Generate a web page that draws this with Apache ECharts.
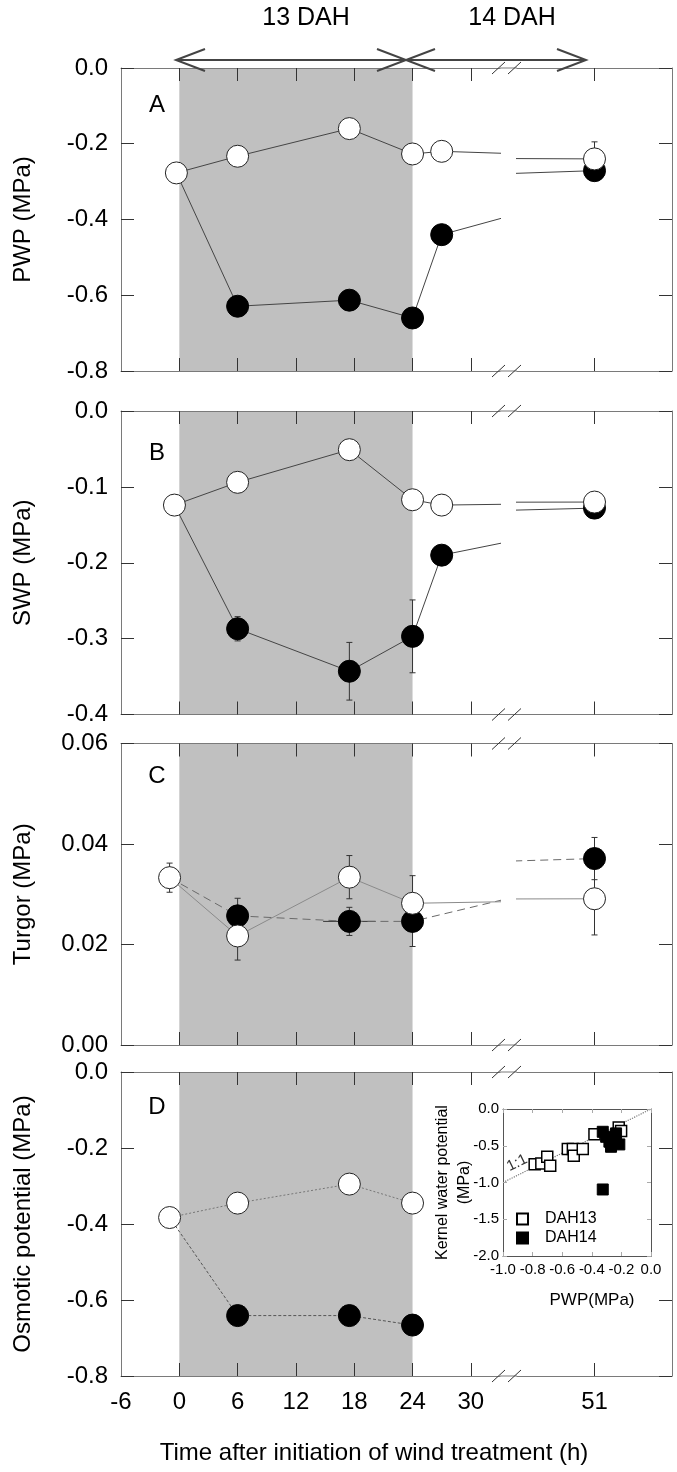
<!DOCTYPE html>
<html><head><meta charset="utf-8">
<script src="https://cdn.jsdelivr.net/npm/echarts@6/dist/echarts.min.js"></script>
<style>html,body{margin:0;padding:0;background:#fff;overflow:hidden}#c{width:677px;height:1472px}</style>
</head><body><div id="c"></div>
<script>
// ---------------- DATA ----------------
const windPeriod = [0, 24];
const xTickValues = [0, 6, 12, 18, 24, 30];
const xLabelValues = [-6, 0, 6, 12, 18, 24, 30];
const xLabelValuesRight = [51];

// Panel A: PWP (MPa)
const timeA = [-0.3, 6, 17.5, 24, 27, 51];
const openA = [-0.277, -0.233, -0.160, -0.227, -0.220, -0.240];
const openAErr = [0, 0, 0, 0, 0, 0.045];
const filledA = [-0.277, -0.629, -0.613, -0.660, -0.440, -0.271];
const filledAErr = [0, 0, 0, 0, 0, 0];

// Panel B: SWP (MPa)
const timeB = [-0.5, 6, 17.5, 24, 27, 51];
const openB = [-0.124, -0.094, -0.051, -0.117, -0.124, -0.120];
const openBErr = [0, 0, 0, 0, 0, 0];
const filledB = [-0.124, -0.287, -0.343, -0.297, -0.190, -0.128];
const filledBErr = [0, 0.016, 0.038, 0.048, 0, 0];

// Panel C: Turgor (MPa)
const timeC = [-1, 6, 17.5, 24, 51];
const openC = [0.0333, 0.0217, 0.0334, 0.0282, 0.0291];
const openCErr = [0.0029, 0.0048, 0.0043, 0.0055, 0.0072];
const filledC = [0.0333, 0.0257, 0.0246, 0.0246, 0.0371];
const filledCErr = [0, 0.0035, 0.0028, 0.005, 0.0042];
const filledCTimeErr = [0, 0, 2.7, 0, 0];

// Panel D: Osmotic potential (MPa)
const timeD = [-1, 6, 17.5, 24];
const openD = [-0.383, -0.345, -0.295, -0.345];
const filledD = [-0.383, -0.641, -0.641, -0.666];

// Inset: kernel water potential vs PWP
const dah13X = [-0.786, -0.741, -0.701, -0.681, -0.562, -0.528, -0.522, -0.461, -0.382, -0.218, -0.202];
const dah13Y = [-0.75, -0.74, -0.65, -0.773, -0.545, -0.545, -0.636, -0.545, -0.345, -0.25, -0.30];
const dah14X = [-0.326, -0.303, -0.281, -0.270, -0.247, -0.236, -0.214, -0.326];
const dah14Y = [-0.31, -0.378, -0.445, -0.514, -0.414, -0.332, -0.482, -1.095];
const oneToOne = [[-1, -1], [0, 0]];

// ---------------- LAYOUT ----------------
const FONT = '"Liberation Sans", Arial, Helvetica, sans-serif';
const L_LEFT = 121, L_W = 379, R_LEFT = 517, R_W = 155;
const FRAME = '#7a7a7a', TICK = '#333';

const panels = [
  {top: 68, h: 303, ymin: -0.8, ymax: 0, yint: 0.2, dec: 1, name: 'PWP (MPa)', letter: 'A', ly: 105,
   times: timeA, open: openA, openErr: openAErr, filled: filledA, filledErr: filledAErr, fxErr: null,
   openLine: {color: '#444', width: 1}, filledLine: {color: '#444', width: 1}},
  {top: 411, h: 303.5, ymin: -0.4, ymax: 0, yint: 0.1, dec: 1, name: 'SWP (MPa)', letter: 'B', ly: 453,
   times: timeB, open: openB, openErr: openBErr, filled: filledB, filledErr: filledBErr, fxErr: null,
   openLine: {color: '#444', width: 1}, filledLine: {color: '#444', width: 1}},
  {top: 743.5, h: 301.5, ymin: 0, ymax: 0.06, yint: 0.02, dec: 2, name: 'Turgor (MPa)', letter: 'C', ly: 776,
   times: timeC, open: openC, openErr: openCErr, filled: filledC, filledErr: filledCErr, fxErr: filledCTimeErr,
   openLine: {color: '#8a8a8a', width: 1}, filledLine: {color: '#6a6a6a', width: 1, type: [8, 5]}},
  {top: 1072, h: 304, ymin: -0.8, ymax: 0, yint: 0.2, dec: 1, name: 'Osmotic potential (MPa)', letter: 'D', ly: 1107,
   times: timeD, open: openD, openErr: null, filled: filledD, filledErr: null, fxErr: null,
   openLine: {color: '#777', width: 1, type: [2, 2]}, filledLine: {color: '#555', width: 1, type: [3, 2]}}
];

const grid = [], xAxis = [], yAxis = [], series = [], graphic = [];

function xAx(gi, pos, min, max, ticks, labels, showLabels) {
  return {gridIndex: gi, type: 'value', position: pos, min: min, max: max, z: 10,
    axisLine: {show: true, onZero: false, lineStyle: {color: FRAME, width: 1}},
    axisTick: {show: true, inside: true, length: 13, customValues: ticks, lineStyle: {color: TICK, width: 1}},
    axisLabel: {show: showLabels, customValues: labels, fontSize: 24, color: '#000', margin: 14, fontFamily: FONT},
    splitLine: {show: false}};
}

function lineSeries(xi, yi, times, vals, open, ls) {
  return {type: 'line', xAxisIndex: xi, yAxisIndex: yi, clip: true, z: open ? 4 : 3,
    data: times.map((t, i) => (!open && i === 0) ? {value: [t, vals[i]], symbol: 'none'} : [t, vals[i]]),
    symbol: 'circle', symbolSize: 22, showSymbol: true, showAllSymbol: true,
    itemStyle: open ? {color: '#fff', borderColor: '#222', borderWidth: 1} : {color: '#000', borderColor: '#000', borderWidth: 1},
    lineStyle: Object.assign({type: 'solid'}, ls), silent: true, animation: false, emphasis: {disabled: true}};
}

function errSeries(xi, yi, times, vals, errs, xerrs) {
  const data = [];
  times.forEach((t, i) => {
    const e = errs ? errs[i] : 0, xe = xerrs ? xerrs[i] : 0;
    if (e > 0 || xe > 0) data.push([t, vals[i], e, xe]);
  });
  return {type: 'custom', xAxisIndex: xi, yAxisIndex: yi, clip: true, z: 2, silent: true, animation: false,
    data: data,
    renderItem: function (params, api) {
      const x = api.value(0), y = api.value(1), e = api.value(2), xe = api.value(3);
      const ch = [], st = {stroke: '#333', lineWidth: 1};
      if (e > 0) {
        const a = api.coord([x, y + e]), b = api.coord([x, y - e]);
        ch.push({type: 'line', shape: {x1: a[0], y1: a[1], x2: b[0], y2: b[1]}, style: st});
        ch.push({type: 'line', shape: {x1: a[0] - 3, y1: a[1], x2: a[0] + 3, y2: a[1]}, style: st});
        ch.push({type: 'line', shape: {x1: b[0] - 3, y1: b[1], x2: b[0] + 3, y2: b[1]}, style: st});
      }
      if (xe > 0) {
        const a = api.coord([x - xe, y]), b = api.coord([x + xe, y]);
        ch.push({type: 'line', shape: {x1: a[0], y1: a[1], x2: b[0], y2: b[1]}, style: st});
      }
      return {type: 'group', children: ch};
    }};
}

function shadeSeries(xi, yi, p) {
  return {type: 'custom', xAxisIndex: xi, yAxisIndex: yi, clip: true, z: 1, silent: true, animation: false,
    data: [windPeriod],
    renderItem: function (params, api) {
      const a = api.coord([api.value(0), p.ymax]), b = api.coord([api.value(1), p.ymin]);
      return {type: 'rect', shape: {x: a[0], y: a[1], width: b[0] - a[0], height: b[1] - a[1]}, style: {fill: '#c0c0c0'}};
    }};
}

panels.forEach((p, k) => {
  const isLast = k === panels.length - 1;
  const gL = grid.length;
  grid.push({left: L_LEFT, top: p.top, width: L_W, height: p.h});
  grid.push({left: R_LEFT, top: p.top, width: R_W, height: p.h});
  const gR = gL + 1;
  const xLb = xAxis.length;
  xAxis.push(xAx(gL, 'bottom', -6, 33, xTickValues, xLabelValues, isLast));
  xAxis.push(xAx(gL, 'top', -6, 33, xTickValues, xLabelValues, false));
  xAxis.push(xAx(gR, 'bottom', 50, 52, xLabelValuesRight, xLabelValuesRight, isLast));
  xAxis.push(xAx(gR, 'top', 50, 52, xLabelValuesRight, xLabelValuesRight, false));
  const xRb = xLb + 2;
  const yL = yAxis.length;
  yAxis.push({gridIndex: gL, type: 'value', position: 'left', min: p.ymin, max: p.ymax, interval: p.yint, z: 10,
    axisLine: {show: true, onZero: false, lineStyle: {color: FRAME}},
    axisTick: {show: true, inside: true, length: 13, lineStyle: {color: TICK}},
    axisLabel: {fontSize: 24, color: '#000', margin: 13, fontFamily: FONT, formatter: v => v.toFixed(p.dec)},
    splitLine: {show: false},
    name: p.name, nameLocation: 'middle', nameGap: 86, nameMoveOverlap: false,
    nameTextStyle: {fontSize: 24, color: '#000', fontFamily: FONT}});
  yAxis.push({gridIndex: gR, type: 'value', position: 'right', min: p.ymin, max: p.ymax, interval: p.yint, z: 10,
    axisLine: {show: true, onZero: false, lineStyle: {color: FRAME}},
    axisTick: {show: true, inside: true, length: 13, lineStyle: {color: TICK}},
    axisLabel: {show: false}, splitLine: {show: false}});
  const yR = yL + 1;

  series.push(shadeSeries(xLb, yL, p));
  [[xLb, yL], [xRb, yR]].forEach(([xi, yi]) => {
    series.push(errSeries(xi, yi, p.times, p.filled, p.filledErr, p.fxErr));
    series.push(errSeries(xi, yi, p.times, p.open, p.openErr, null));
    series.push(lineSeries(xi, yi, p.times, p.filled, false, p.filledLine));
    series.push(lineSeries(xi, yi, p.times, p.open, true, p.openLine));
  });

  // frame bridge across axis break + break marks
  [p.top, p.top + p.h].forEach(y => {
    graphic.push({type: 'line', z: 20, shape: {x1: L_LEFT + L_W, y1: y, x2: R_LEFT, y2: y}, style: {stroke: FRAME, lineWidth: 1}});
    graphic.push({type: 'line', z: 21, shape: {x1: 492, y1: y + 6, x2: 505, y2: y - 6}, style: {stroke: '#333', lineWidth: 1}});
    graphic.push({type: 'line', z: 21, shape: {x1: 508, y1: y + 6, x2: 521, y2: y - 6}, style: {stroke: '#333', lineWidth: 1}});
  });
  graphic.push({type: 'text', z: 20, x: 157, y: p.ly,
    style: {text: p.letter, fontSize: 24, fontFamily: FONT, fill: '#000', align: 'center', verticalAlign: 'middle',
      textAlign: 'center', textVerticalAlign: 'middle'}});
});

// ---------------- INSET ----------------
const gi = grid.length;
grid.push({left: 503, top: 1109, width: 148, height: 147});
const ix = xAxis.length;
const insetTick = {show: true, inside: true, length: 4, lineStyle: {color: '#aaa'}};
xAxis.push({gridIndex: gi, type: 'value', position: 'bottom', min: -1, max: 0, interval: 0.2, z: 12,
  axisLine: {show: true, onZero: false, lineStyle: {color: '#555'}}, axisTick: insetTick,
  axisLabel: {fontSize: 15, color: '#000', margin: 6, fontFamily: FONT, formatter: v => v.toFixed(1)},
  splitLine: {show: false}});
xAxis.push({gridIndex: gi, type: 'value', position: 'top', min: -1, max: 0, interval: 0.2, z: 12,
  axisLine: {show: true, onZero: false, lineStyle: {color: '#555'}}, axisTick: insetTick, axisLabel: {show: false}, splitLine: {show: false}});
const iy = yAxis.length;
yAxis.push({gridIndex: gi, type: 'value', position: 'left', min: -2, max: 0, interval: 0.5, z: 12,
  axisLine: {show: true, onZero: false, lineStyle: {color: '#555'}}, axisTick: insetTick,
  axisLabel: {fontSize: 15, color: '#000', margin: 4, fontFamily: FONT, formatter: v => v.toFixed(1)},
  splitLine: {show: false},
  name: 'Kernel water potential\n(MPa)', nameLocation: 'middle', nameGap: 27, nameMoveOverlap: false,
  nameTextStyle: {fontSize: 16, lineHeight: 22, color: '#000', fontFamily: FONT}});
yAxis.push({gridIndex: gi, type: 'value', position: 'right', min: -2, max: 0, interval: 0.5, z: 12,
  axisLine: {show: true, onZero: false, lineStyle: {color: '#555'}}, axisTick: insetTick, axisLabel: {show: false}, splitLine: {show: false}});

series.push({type: 'line', xAxisIndex: ix, yAxisIndex: iy, data: oneToOne, symbol: 'none', z: 6, silent: true,
  lineStyle: {color: '#777', width: 1.2, type: 'dotted'}, animation: false});
series.push({name: 'DAH13', type: 'scatter', xAxisIndex: ix, yAxisIndex: iy, z: 7, symbol: 'rect', symbolSize: 11,
  data: dah13X.map((x, i) => [x, dah13Y[i]]), itemStyle: {color: '#fff', borderColor: '#000', borderWidth: 1.5, opacity: 1},
  silent: true, animation: false});
series.push({name: 'DAH14', type: 'scatter', xAxisIndex: ix, yAxisIndex: iy, z: 8, symbol: 'rect', symbolSize: 11,
  data: dah14X.map((x, i) => [x, dah14Y[i]]), itemStyle: {color: '#000', borderColor: '#000', borderWidth: 1, opacity: 1},
  silent: true, animation: false});

graphic.push({type: 'text', z: 20, x: 592, y: 1300,
  style: {text: 'PWP(MPa)', fontSize: 17, fontFamily: FONT, fill: '#000', align: 'center', verticalAlign: 'middle',
    textAlign: 'center', textVerticalAlign: 'middle'}});
graphic.push({type: 'text', z: 20, x: 517, y: 1163, rotation: 0.45,
  style: {text: '1:1', fontSize: 15, fontFamily: FONT, fill: '#333', align: 'center', verticalAlign: 'middle',
    textAlign: 'center', textVerticalAlign: 'middle'}});

// ---------------- TOP ANNOTATION & AXIS TITLE ----------------
const txt = (t, x, y, fs) => ({type: 'text', z: 20, x: x, y: y,
  style: {text: t, fontSize: fs, fontFamily: FONT, fill: '#000', align: 'center', verticalAlign: 'middle',
    textAlign: 'center', textVerticalAlign: 'middle'}});
graphic.push(txt('13 DAH', 306, 18, 25));
graphic.push(txt('14 DAH', 512, 18, 25));
graphic.push(txt('Time after initiation of wind treatment (h)', 374, 1453, 24));
const arrowStyle = {stroke: '#444', lineWidth: 2, fill: null};
graphic.push({type: 'line', z: 20, shape: {x1: 176, y1: 60, x2: 586, y2: 60}, style: arrowStyle});
[[176, 1], [406, -1], [406, 1], [586, -1]].forEach(([x, d]) => {
  graphic.push({type: 'polyline', z: 20, shape: {points: [[x + d * 29, 49], [x, 60], [x + d * 29, 71]]}, style: arrowStyle});
});

const chart = echarts.init(document.getElementById('c'), null, {renderer: 'canvas'});
chart.setOption({
  animation: false,
  backgroundColor: '#fff',
  textStyle: {fontFamily: FONT},
  grid: grid, xAxis: xAxis, yAxis: yAxis, series: series, graphic: graphic,
  legend: {data: ['DAH13', 'DAH14'], orient: 'vertical', left: 511, top: 1206, itemWidth: 11, itemHeight: 11, itemGap: 3,
    z: 30, selectedMode: false, icon: 'rect', textStyle: {fontSize: 16, color: '#000', fontFamily: FONT, padding: [0, 0, 0, 12]}}
});
</script></body></html>
